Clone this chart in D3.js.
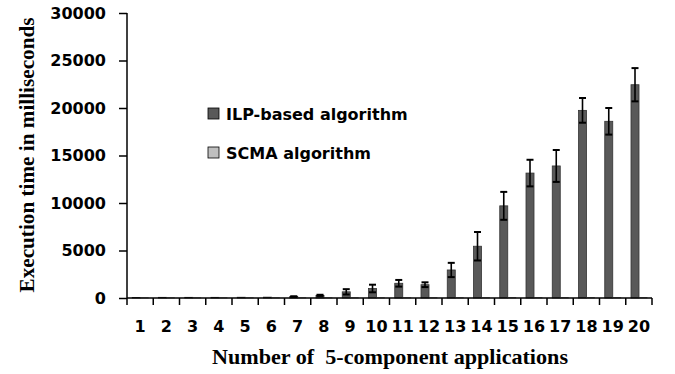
<!DOCTYPE html>
<html><head><meta charset="utf-8">
<script src="https://cdn.jsdelivr.net/npm/d3@7"></script>
<style>body{margin:0;background:#fff}svg{display:block}</style>
</head><body>
<svg id="c" width="675" height="374"></svg>
<script>
const categories = ["1","2","3","4","5","6","7","8","9","10","11","12","13","14","15","16","17","18","19","20"];
const ilpValues = [60,70,70,70,80,90,150,280,650,1000,1550,1400,2950,5450,9700,13150,13900,19750,18600,22450];
const ilpErrors = [0,0,0,0,0,0,30,60,280,400,350,250,750,1500,1470,1400,1680,1300,1400,1750];
const scmaValues = [30,30,30,30,30,30,35,35,35,35,40,40,40,40,45,45,45,50,50,50];
const seriesNames = ["ILP-based algorithm","SCMA algorithm"];
const yTicks = [0,5000,10000,15000,20000,25000,30000];

(function(){
const svg = d3.select("#c");
const pl = 127, pr = 652, pt = 13, pb = 298;
const x = d3.scaleBand().domain(categories).range([pl, pr]).padding(0);
const x1 = d3.scaleBand().domain(seriesNames).range([x.bandwidth()*0.2, x.bandwidth()*0.81]).padding(0);
const y = d3.scaleLinear().domain([0,30000]).range([pb, pt]);
const colors = ["#595959","#bfbfbf"];
const strokes = ["#333","#8a8a8a"];

const g = svg.append("g");
[ilpValues, scmaValues].forEach((vals, si) => {
  g.selectAll(".b"+si).data(vals).enter().append("rect")
    .attr("x", (d,i) => x(categories[i]) + x1(seriesNames[si]))
    .attr("y", d => y(d))
    .attr("width", x1.bandwidth())
    .attr("height", d => y(0) - y(d))
    .attr("fill", colors[si]).attr("stroke", strokes[si]).attr("stroke-width", 0.8);
});
const eb = svg.append("g").attr("stroke","#000").attr("stroke-width",1.6);
ilpValues.forEach((v,i) => {
  const e = ilpErrors[i]; if (!e) return;
  const cx = x(categories[i]) + x1(seriesNames[0]) + x1.bandwidth()/2;
  eb.append("line").attr("x1",cx).attr("x2",cx).attr("y1",y(v-e)).attr("y2",y(v+e));
  [v-e, v+e].forEach(t => eb.append("line").attr("x1",cx-3.5).attr("x2",cx+3.5).attr("y1",y(t)).attr("y2",y(t)).attr("stroke-width",2));
});

const ya = svg.append("g").attr("transform",`translate(${pl},0)`)
  .call(d3.axisLeft(y).tickValues(yTicks).tickSize(8).tickPadding(13).tickFormat(d3.format("d")));
ya.select(".domain").attr("stroke","#000").attr("stroke-width",1.5).attr("d",`M0,${pt}V${pb}`);
ya.selectAll(".tick line").attr("stroke","#000").attr("stroke-width",1.5);
ya.selectAll("text").attr("font-family","DejaVu Sans").attr("font-weight","bold").attr("font-size","16px").attr("fill","#000");

const xa = svg.append("g").attr("transform",`translate(0,${pb})`)
  .call(d3.axisBottom(x).tickSize(0).tickPadding(23));
xa.select(".domain").attr("stroke","#000").attr("stroke-width",1.5).attr("d",`M${pl},0H${pr}`);
xa.selectAll("text").attr("font-family","DejaVu Sans").attr("font-weight","bold").attr("font-size","16px").attr("fill","#000");
const bounds = categories.map(c => x(c)).concat([pr]);
xa.selectAll(".bt").data(bounds).enter().append("line")
  .attr("x1",d=>d).attr("x2",d=>d).attr("y1",0).attr("y2",7).attr("stroke","#000").attr("stroke-width",1.5);

svg.append("text").attr("transform","translate(34,155) rotate(-90)").attr("text-anchor","middle")
  .attr("font-family","Liberation Serif").attr("font-weight","bold").attr("font-size","21px")
  .attr("textLength",275).attr("lengthAdjust","spacingAndGlyphs").text("Execution time in milliseconds");
svg.append("text").attr("x",390).attr("y",364).attr("text-anchor","middle")
  .attr("font-family","Liberation Serif").attr("font-weight","bold").attr("font-size","21px").style("white-space","pre")
  .attr("textLength",356).attr("lengthAdjust","spacingAndGlyphs")
  .text("Number of  5-component applications");

const lg = svg.append("g");
seriesNames.forEach((n,i) => {
  const yy = 114 + i*39;
  lg.append("rect").attr("x",208).attr("y",yy-6).attr("width",11).attr("height",11).attr("fill",colors[i]).attr("stroke","#000").attr("stroke-width",0.8);
  lg.append("text").attr("x",226).attr("y",yy+6).attr("font-family","DejaVu Sans").attr("font-size","16px").attr("font-weight","bold").attr("fill","#000").text(n);
});
})();
</script>
</body></html>
